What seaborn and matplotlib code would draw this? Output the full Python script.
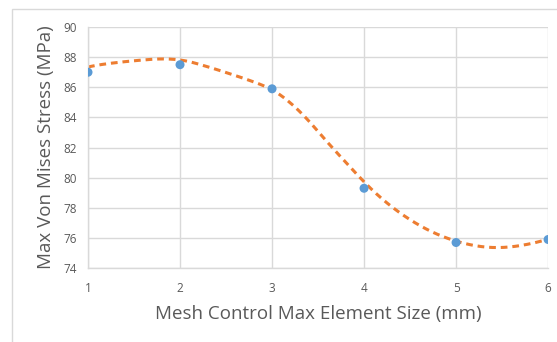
import numpy as np
import pandas as pd
import matplotlib
matplotlib.use("Agg")
import matplotlib.pyplot as plt
import seaborn as sns

# Mesh sensitivity study: max element size vs. peak von Mises stress
element_size = [1, 2, 3, 4, 5, 6]
max_stress = [87.0, 87.5, 85.9, 79.3, 75.7, 75.9]
x_ticks = [1, 2, 3, 4, 5, 6]
y_ticks = [74, 76, 78, 80, 82, 84, 86, 88, 90]

# Trendline values along the element-size range
trend_size = [1.0, 1.13, 1.46, 1.76, 2.0, 2.33, 2.72, 3.0, 3.2, 3.36, 3.65,
              3.78, 4.0, 4.25, 4.5, 4.75, 5.0, 5.2, 5.4, 5.6, 5.8, 6.0]
trend_stress = [87.35, 87.5, 87.73, 87.87, 87.83, 87.3, 86.5, 85.85, 85.0, 84.0, 82.0,
                81.2, 79.7, 78.32, 77.22, 76.37, 75.8, 75.5, 75.36, 75.42, 75.62, 75.92]

sns.set_theme(style="white")
plt.rcParams["font.family"] = ["Open Sans", "DejaVu Sans"]

df = pd.DataFrame({"size": element_size, "stress": max_stress})


def local_quadratic(x, y, grid, bandwidth=0.22):
    """Gaussian-weighted local quadratic smoother evaluated on grid."""
    x = np.asarray(x, float)
    y = np.asarray(y, float)
    out = np.empty_like(grid)
    for i, g in enumerate(grid):
        w = np.exp(-0.5 * ((x - g) / bandwidth) ** 2)
        c = np.polyfit(x - g, y, 2, w=np.sqrt(w))
        out[i] = c[-1]
    return out


xs = np.linspace(1, 6, 250)
trend = pd.DataFrame({"size": xs, "stress": local_quadratic(trend_size, trend_stress, xs)})

fig = plt.figure(figsize=(5.57, 3.42), dpi=100)
ax = fig.add_axes([0.158, 0.216, 0.826, 0.705])

grid_c = "#d9d9d9"
text_c = "#595959"

sns.lineplot(data=trend, x="size", y="stress", ax=ax, color="#ED7D31",
             linewidth=2.2, linestyle=(0, (2.2, 1.6)), zorder=2)
sns.scatterplot(data=df, x="size", y="stress", ax=ax, color="#5B9BD5",
                s=42, edgecolor="none", zorder=3)

ax.set_xlim(1, 6)
ax.set_ylim(74, 90)
ax.set_xticks(x_ticks)
ax.set_yticks(y_ticks)
ax.grid(True, color=grid_c, linewidth=1)
ax.set_axisbelow(True)
for side in ["top", "right"]:
    ax.spines[side].set_visible(False)
for side in ["left", "bottom"]:
    ax.spines[side].set_color(grid_c)
    ax.spines[side].set_linewidth(1)
ax.tick_params(axis="both", length=0, labelsize=8.5, labelcolor=text_c)
ax.tick_params(axis="x", pad=10)
ax.tick_params(axis="y", pad=8)

ax.set_xlabel("Mesh Control Max Element Size (mm)", fontsize=13.5, color=text_c, labelpad=7)
ax.set_ylabel("Max Von Mises Stress (MPa)", fontsize=13.5, color=text_c, labelpad=6)

# Chart-area frame
frame = plt.Rectangle((12 / 557, -0.05), 1.0, 1 - 9 / 342 + 0.05, transform=fig.transFigure,
                      fill=False, edgecolor=grid_c, linewidth=1, zorder=0)
fig.patches.append(frame)

fig.savefig("out.png", dpi=100)
